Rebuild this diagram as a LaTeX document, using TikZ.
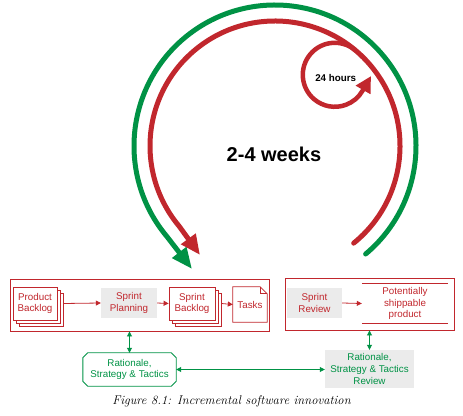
\documentclass[tikz,border=0pt]{standalone}
\usepackage{fontspec}
\newfontfamily\sansf{Liberation Sans}
\usetikzlibrary{arrows.meta,bending,shadows,calc}
\definecolor{sred}{HTML}{C1272D}
\definecolor{sgreen}{HTML}{009245}
\definecolor{sgray}{HTML}{EBEBEB}
\begin{document}
\begin{tikzpicture}[x=1pt,y=1pt,
  box/.style={font=\sansf\fontsize{9.8}{11.8}\selectfont, text=sred, align=center, inner sep=0pt},
  stackbox/.style={box, draw=sred, fill=white, line width=0.8pt, minimum width=44pt, minimum height=33pt,
    general shadow={shadow xshift=6pt,shadow yshift=-6pt,draw=sred,fill=white,line width=0.8pt},
    general shadow={shadow xshift=3pt,shadow yshift=-3pt,draw=sred,fill=white,line width=0.8pt}},
  graybox/.style={box, fill=sgray},
  frame/.style={draw=sred, line width=0.9pt, inner sep=0pt},
  rarrow/.style={draw=sred, line width=0.8pt, -{Triangle[length=5pt,width=5pt]}},
  garrow/.style={draw=sgreen, line width=0.8pt, {Triangle[length=5pt,width=5pt]}-{Triangle[length=5pt,width=5pt]}},
  bigarc/.style={line width=5pt, line cap=round},
]
\useasboundingbox (0,0) rectangle (463,415);
% cycles
\coordinate (bc) at (275,269);
\coordinate (sc) at (334.8,340.2);
\coordinate (gtip) at (192,146);
\coordinate (rtip) at (200,160);
\draw[bigarc, sgreen, -{Triangle[length=21pt,width=17pt]}]
  ($(bc)+(-50:141)$) arc[start angle=-50,end angle=220,radius=141] -- (gtip);
\draw[bigarc, sred, -{Triangle[length=20pt,width=17pt]}]
  ($(bc)+(-51:125)$) arc[start angle=-51,end angle=220,radius=125] -- (rtip);
\draw[sred, line width=4.5pt, -{Triangle[length=16pt,width=16pt]}]
  ($(sc)+(50:32)$) arc[start angle=50,end angle=330,radius=32] -- ++(60:17);
\node[font=\sansf\bfseries\fontsize{9.8}{12}\selectfont] (h24) at (335.7,337.3) {24 hours};
\node[font=\sansf\bfseries\fontsize{20}{24}\selectfont] (wk) at (274,261) {2-4 weeks};
% frames
\node[frame, minimum width=259pt, minimum height=52pt] (lf) at (139.5,110) {};
\node[frame, minimum width=169pt, minimum height=52pt] (rf) at (369.5,111) {};
% left row
\node[stackbox] (pb) at (35,111.5) {Product\\Backlog};
\node[graybox, minimum width=56pt, minimum height=30pt] (sp) at (129,112) {Sprint\\Planning};
\node[stackbox, minimum width=46pt] (sb) at (192,111.5) {Sprint\\Backlog};
\node[box, minimum width=34pt, minimum height=35pt] (tk) at (250,110.5) {Tasks};
\draw[sred, line width=0.8pt, fill=white]
  (tk.north west) -- ([xshift=-7pt]tk.north east) -- ([yshift=-7pt]tk.north east)
  -- (tk.south east) -- (tk.south west) -- cycle;
\draw[sred, line width=0.6pt] ([xshift=-7pt]tk.north east) -- ([xshift=-7pt,yshift=-7pt]tk.north east) -- ([yshift=-7pt]tk.north east);
\node[box] at (tk.center) {Tasks};
\draw[rarrow] ([xshift=6pt]pb.east) -- (sp.west);
\draw[rarrow] (sp.east) -- (sb.west);
\draw[rarrow] ([xshift=6pt]sb.east) -- (tk.west);
% right row
\node[graybox, minimum width=55pt, minimum height=30pt] (sr) at (314.5,112) {Sprint\\Review};
\node[box, minimum width=86pt, minimum height=39pt] (pp) at (405,111.5) {Potentially\\shippable\\product};
\draw[sred, line width=1pt] (pp.north west) -- (pp.north east);
\draw[sred, line width=1pt] (pp.south west) -- (pp.south east);
\draw[rarrow] (sr.east) -- (pp.west);
% rationale
\node[box, text=sgreen, minimum width=93pt, minimum height=33pt] (rl) at (129.5,45.5) {Rationale,\\Strategy \& Tactics};
\draw[sgreen, line width=0.9pt]
  ([xshift=5pt]rl.north west) -- ([xshift=-5pt]rl.north east) -- ([yshift=-5pt]rl.north east)
  -- ([yshift=5pt]rl.south east) -- ([xshift=-5pt]rl.south east) -- ([xshift=5pt]rl.south west)
  -- ([yshift=5pt]rl.south west) -- ([yshift=-5pt]rl.north west) -- cycle;
\node[graybox, text=sgreen, minimum width=89pt, minimum height=38pt] (rr) at (369.5,46) {Rationale,\\Strategy \& Tactics\\Review};
\draw[garrow] (rl.north |- lf.south) -- (rl.north);
\draw[garrow] (rr.north |- rf.south) -- (rr.north);
\draw[garrow] (rl.east) -- (rl.east -| rr.west);
% caption
\node[font=\itshape\fontsize{12.6}{14}\selectfont] (cap) at (231.5,14) {Figure \oldstylenums{8}.\oldstylenums{1}: Incremental software innovation};
\end{tikzpicture}
\end{document}
